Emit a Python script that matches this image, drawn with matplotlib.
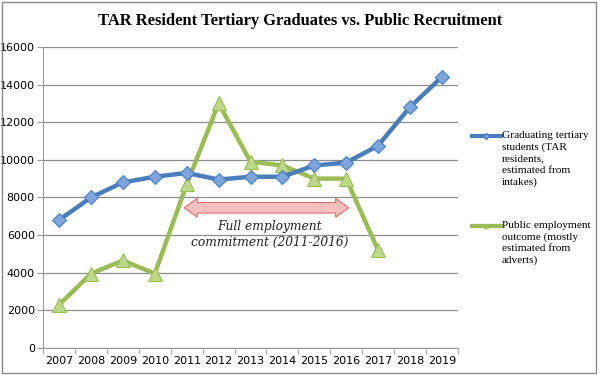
import matplotlib.pyplot as plt
from matplotlib.patches import Polygon, Rectangle
from matplotlib.lines import Line2D

# Data.
years = ["2007", "2008", "2009", "2010", "2011", "2012", "2013",
         "2014", "2015", "2016", "2017", "2018", "2019"]
graduates = [6800, 8000, 8800, 9100, 9300, 8950, 9100,
             9100, 9700, 9850, 10750, 12800, 14400]
public_jobs = [2300, 3950, 4650, 3950, 8700, 13000, 9900,
               9700, 9000, 9000, 5200]

grad_label = "Graduating tertiary\nstudents (TAR\nresidents,\nestimated from\nintakes)"
public_label = "Public employment\noutcome (mostly\nestimated from\nadverts)"
note = "Full employment\ncommitment (2011-2016)"
arrow_span = ("2011", "2016")
arrow_level = 7450

blue, blue_marker = "#4A7EBB", "#7EA6DC"
green, green_marker = "#9BBB59", "#BCD889"

fig = plt.figure(figsize=(6, 3.75), dpi=100)
ax = fig.add_axes([0.072, 0.072, 0.691, 0.803])

xs = list(range(len(years)))
ax.plot(xs, graduates, color=blue, lw=3.2, marker="D", ms=7.5,
        mfc=blue_marker, mec=blue, mew=0.8, zorder=4)
ax.plot(xs[:len(public_jobs)], public_jobs, color=green, lw=3.2, marker="^",
        ms=10, mfc=green_marker, mec=green, mew=0.8, zorder=3)

# Double-headed block arrow for the commitment period.
x0 = years.index(arrow_span[0])
x1 = years.index(arrow_span[1])
hl, hh, sh = 0.33, 500, 280
pts = [(x0 - 0.08, arrow_level), (x0 + hl, arrow_level + hh), (x0 + hl, arrow_level + sh),
       (x1 - hl, arrow_level + sh), (x1 - hl, arrow_level + hh), (x1 + 0.08, arrow_level),
       (x1 - hl, arrow_level - hh), (x1 - hl, arrow_level - sh),
       (x0 + hl, arrow_level - sh), (x0 + hl, arrow_level - hh)]
ax.add_patch(Polygon(pts, closed=True, fc="#F6C0BF", ec="#D9706E", lw=0.8, zorder=5))
ax.text((x0 + x1) / 2 + 0.1, arrow_level - 650, note, ha="center", va="top",
        fontsize=8.8, style="italic", family="DejaVu Serif", color="#222222",
        linespacing=1.25, zorder=6)

ax.set_ylim(0, 16000)
ax.set_xlim(-0.5, len(years) - 0.5)
ax.set_yticks(range(0, 16001, 2000))
ax.set_xticks(xs)
ax.set_xticklabels(years)
ax.set_xticks([x - 0.5 for x in range(len(years) + 1)], minor=True)
ax.tick_params(axis="x", which="major", length=0, labelsize=8, pad=6)
ax.tick_params(axis="x", which="minor", length=4, color="#999999")
ax.tick_params(axis="y", length=4, color="#999999", labelsize=8, pad=2)
ax.grid(axis="y", color="#8C8C8C", lw=0.9)
ax.set_axisbelow(True)
for side in ("top", "right"):
    ax.spines[side].set_visible(False)
for side in ("left", "bottom"):
    ax.spines[side].set_color("#999999")

fig.text(0.5, 0.945, "TAR Resident Tertiary Graduates vs. Public Recruitment",
         ha="center", va="center", fontsize=11.9, fontweight="bold",
         family="Liberation Serif")

# Legend drawn by hand so the key line sits on the first text line.
entries = [(grad_label, blue, blue_marker, "D", 0.637),
           (public_label, green, green_marker, "^", 0.398)]
for label, col, mcol, mk, y in entries:
    fig.add_artist(Line2D([0.787, 0.835], [y, y], color=col, lw=3,
                          transform=fig.transFigure))
    fig.add_artist(Line2D([0.81], [y], color=col, marker=mk, ms=3, mfc=mcol,
                          mec=col, transform=fig.transFigure))
    fig.text(0.836, y + 0.014, label, ha="left", va="top", fontsize=8.1,
             family="Liberation Serif", linespacing=1.33)

fig.patches.append(Rectangle((0.004, 0.005), 0.99, 0.99, transform=fig.transFigure,
                             fill=False, ec="#888888", lw=1))

fig.savefig("out.png", dpi=100)
